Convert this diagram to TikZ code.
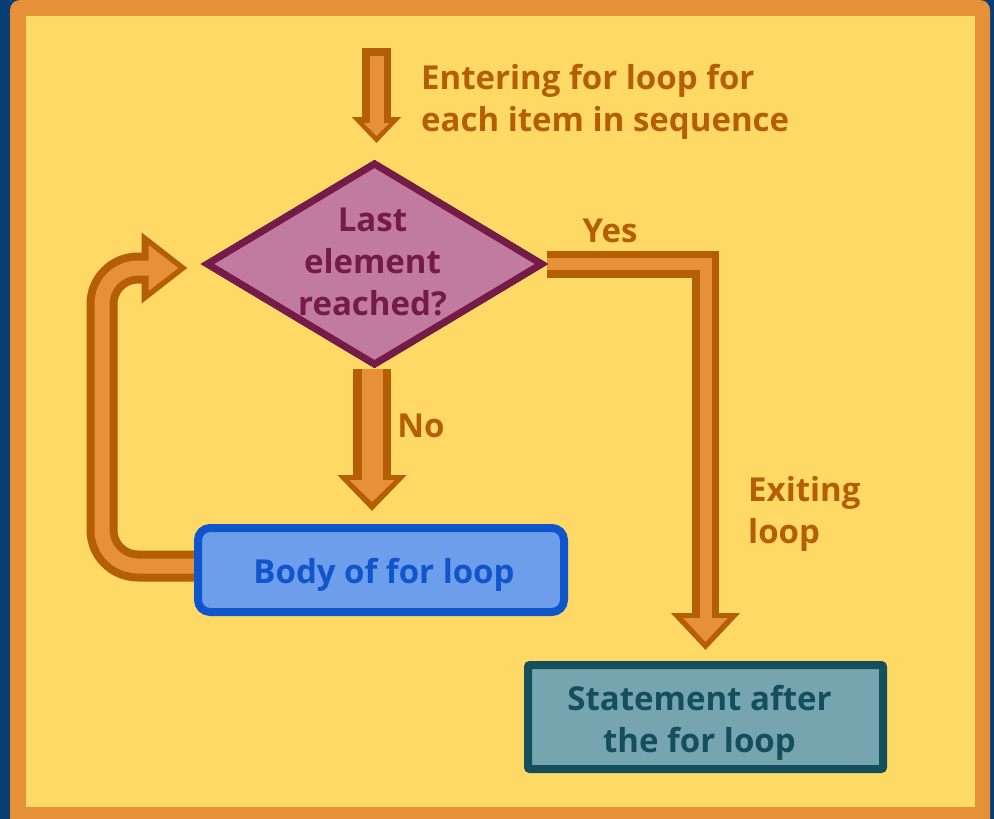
\documentclass[tikz,border=0pt]{standalone}
\usepackage{fontspec}
\setmainfont{Open Sans}
\usetikzlibrary{shapes.geometric,arrows.meta,calc}

\definecolor{navy}{HTML}{073F75}
\definecolor{frame}{HTML}{E69138}
\definecolor{paper}{HTML}{FFD966}
\definecolor{arrowfill}{HTML}{E69138}
\definecolor{arrowline}{HTML}{B45F06}
\definecolor{condfill}{HTML}{C27BA0}
\definecolor{condline}{HTML}{741B47}
\definecolor{bodyfill}{HTML}{6D9EEB}
\definecolor{bodyline}{HTML}{1155CC}
\definecolor{afterfill}{HTML}{76A5AF}
\definecolor{afterline}{HTML}{134F5C}

\begin{document}
\begin{tikzpicture}[x=1pt, y=-1pt, font=\fontsize{33}{42}\selectfont\bfseries]
\tikzset{lbl/.style={text=arrowline, align=left, inner sep=0pt}}
\tikzset{inside/.style={align=center, inner sep=0pt}}
\tikzset{cond/.style={diamond, draw=condline, fill=condfill, line width=7pt,
  minimum width=337pt, minimum height=203pt, inner sep=0pt}}
\tikzset{bodybox/.style={rectangle, rounded corners=12pt, draw=bodyline, fill=bodyfill,
  line width=8pt, minimum width=366pt, minimum height=84pt}}
\tikzset{afterbox/.style={rectangle, rounded corners=2pt, draw=afterline, fill=afterfill,
  line width=8pt, minimum width=355pt, minimum height=104pt}}
% block arrows: dark outline first, orange core on top
\tikzset{shaftout/.style n args={3}{draw=arrowline, line width=#1, line join=miter,
  -{Triangle[width=#2, length=#3]}}}
\tikzset{shaftin/.style n args={4}{draw=arrowfill, line width=#1, line join=miter,
  -{Triangle[width=#2, length=#3]}, shorten >=#4}}

\useasboundingbox (0,0) rectangle (994,819);
\fill[navy] (0,0) rectangle (994,819);
\fill[frame, rounded corners=10pt] (10,0) rectangle (990,840);
\fill[paper] (26,16) rectangle (975,807);

\path (374.5,264) node[cond] (cond) {};
\path (381,570) coordinate (bodyc);
\path (705.5,717) coordinate (afterc);

\coordinate (bodyn) at ($(bodyc)+(0,-42)$);
\coordinate (aftern) at ($(afterc)+(0,-52)$);
\coordinate (entry) at ($(cond.north)+(2,-111)$);
\coordinate (entrytip) at ($(cond.north)+(2,-16)$);
\coordinate (notip) at ($(cond.south |- bodyn)+(-2.5,-17)$);
\coordinate (yestip) at ($(aftern)+(0,-15)$);
\coordinate (loopin) at ($(bodyc)+(-170,-4)$);
\coordinate (loopx) at ($(bodyc)+(-279,-4)$);
\coordinate (looptip) at ($(cond.west)+(-15,4)$);

% entering arrow
\draw[shaftout={29pt}{48pt}{26pt}] (entry) -- (entrytip);
\draw[shaftin={14pt}{25pt}{13pt}{7pt}, shorten <=7.5pt] (entry) -- (entrytip);

% no
\draw[shaftout={38pt}{67pt}{36pt}] ($(cond.south)+(-2.5,0)$) -- (notip);
\draw[shaftin={21pt}{44pt}{22pt}{9pt}] ($(cond.south)+(-2.5,0)$) -- (notip);

% yes
\draw[shaftout={27pt}{67pt}{37pt}] (cond.east) -- (cond.east -| yestip) -- (yestip);
\draw[shaftin={12pt}{43pt}{24pt}{8pt}] (cond.east) -- (cond.east -| yestip) -- (yestip);

% back to the test
\draw[shaftout={31pt}{68pt}{46pt}, rounded corners=36pt]
  (loopin) -- (loopx) -- (loopx |- looptip) -- (looptip);
\draw[shaftin={15pt}{44pt}{30pt}{9pt}, rounded corners=36pt]
  (loopin) -- (loopx) -- (loopx |- looptip) -- (looptip);

\path (374.5,264) node[cond] (cond) {};
\node[bodybox] (body) at (bodyc) {};
\node[afterbox] (after) at (afterc) {};

\node[inside, text=condline] (condtext) at ($(cond)+(-2,-2)$) {Last\\element\\reached?};
\node[inside, text=bodyline] (bodytext) at ($(body)+(3,5)$) {Body of for loop};
\node[inside, text=afterline] (aftertext) at ($(after)+(-6,6)$) {Statement after\\the for loop};

\node[lbl, anchor=west] (enter) at (421,102) {Entering for loop for\\each item in sequence};
\node[lbl] (yes) at (610,231) {Yes};
\node[lbl] (no) at (421,426) {No};
\node[lbl, anchor=west] (exit) at (748,514) {Exiting\\loop};
\end{tikzpicture}
\end{document}
